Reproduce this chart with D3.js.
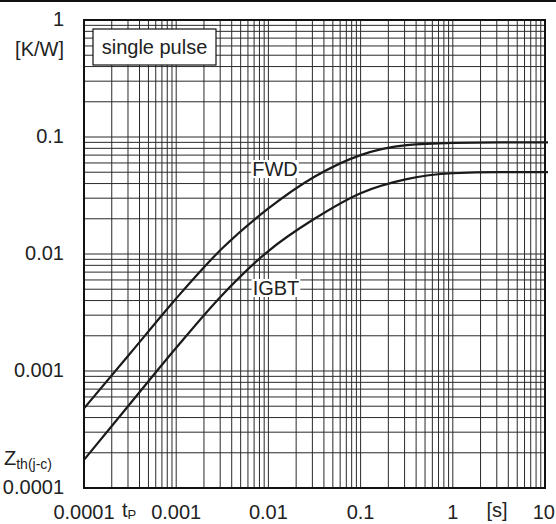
<!DOCTYPE html>
<html>
<head>
<meta charset="utf-8">
<script src="https://cdn.jsdelivr.net/npm/d3@7"></script>
<style>
  body { margin: 0; background: #fff; }
  text { font-family: "Liberation Sans", Arial, sans-serif; fill: #222; }
</style>
</head>
<body>
<div id="chart"></div>
<script>
// pulse duration [s] and thermal impedance [K/W]
var tp = [0.0001, 0.000316, 0.001, 0.00316, 0.01, 0.0316, 0.1, 0.316, 1, 3.16, 10];
var fwdZ = [0.000479, 0.00141, 0.00417, 0.0112, 0.0245, 0.0457, 0.070, 0.0851, 0.0891, 0.090, 0.090];
var igbtZ = [0.000174, 0.000525, 0.00158, 0.00447, 0.0106, 0.020, 0.0331, 0.0437, 0.049, 0.0501, 0.0501];

var xTicks = [0.0001, 0.001, 0.01, 0.1, 1, 10];
var xTickLabels = ["0.0001", "0.001", "0.01", "0.1", "1", "10"];
var yTicks = [0.0001, 0.001, 0.01, 0.1, 1];
var yTickLabels = ["0.0001", "0.001", "0.01", "0.1", "1"];

var width = 556, height = 524;
var margin = {left: 84, right: 11, top: 20, bottom: 36};
var fs = 20;

var svg = d3.select("#chart").append("svg")
    .attr("width", width)
    .attr("height", height);

svg.append("rect").attr("x", 0).attr("y", 0).attr("width", width).attr("height", 2).attr("fill", "#111");

var x = d3.scaleLog().domain([0.0001, 10]).range([margin.left, width - margin.right]);
var y = d3.scaleLog().domain([0.0001, 1]).range([height - margin.bottom, margin.top]);

// grid lines 1..9 per decade
function gridVals(lo, decades) {
    var out = [];
    for (var d = 0; d < decades; d++)
        for (var k = 1; k <= 9; k++) out.push(k * lo * Math.pow(10, d));
    out.push(lo * Math.pow(10, decades));
    return out;
}

var grid = svg.append("g").attr("stroke", "#2a2a2a").attr("stroke-width", 1);
grid.selectAll(".vx").data(gridVals(0.0001, 5)).enter().append("line")
    .attr("x1", d => x(d)).attr("x2", d => x(d))
    .attr("y1", y(1)).attr("y2", y(0.0001));
grid.selectAll(".hy").data(gridVals(0.0001, 4)).enter().append("line")
    .attr("y1", d => y(d)).attr("y2", d => y(d))
    .attr("x1", x(0.0001)).attr("x2", x(10));

svg.append("rect")
    .attr("x", x(0.0001)).attr("y", y(1))
    .attr("width", x(10) - x(0.0001)).attr("height", y(0.0001) - y(1))
    .attr("fill", "none").attr("stroke", "#111").attr("stroke-width", 2);

var line = d3.line().curve(d3.curveMonotoneX);

function drawCurve(ts, zs) {
    var pts = ts.map((t, i) => [x(t), y(zs[i])]);
    pts.push([x(10) + 3, y(zs[zs.length - 1])]);
    svg.append("path").attr("d", line(pts))
        .attr("fill", "none").attr("stroke", "#1a1a1a").attr("stroke-width", 2.2);
}
drawCurve(tp, fwdZ);
drawCurve(tp, igbtZ);

// curve labels with white backgrounds
function label(txt, cx, by) {
    var t = svg.append("text").attr("x", cx).attr("y", by)
        .attr("text-anchor", "middle").attr("font-size", fs).text(txt);
    var b = t.node().getBBox();
    svg.insert("rect", function () { return t.node(); })
        .attr("x", b.x - 1).attr("y", b.y + 2).attr("width", b.width + 2).attr("height", b.height - 4)
        .attr("fill", "#fff");
}
label("FWD", 275, 176);
label("IGBT", 276, 295);

// single pulse box
svg.append("rect").attr("x", 93).attr("y", 29).attr("width", 123).attr("height", 36)
    .attr("fill", "#fff").attr("stroke", "#111").attr("stroke-width", 1.2);
svg.append("text").attr("x", 154.5).attr("y", 54).attr("text-anchor", "middle")
    .attr("font-size", fs).text("single pulse");

// y axis labels
svg.selectAll(".ylab").data(yTicks).enter().append("text")
    .attr("x", 64).attr("y", d => y(d) + 6)
    .attr("text-anchor", "end").attr("font-size", fs)
    .text((d, i) => yTickLabels[i]);
svg.append("text").attr("x", 64).attr("y", 56).attr("text-anchor", "end")
    .attr("font-size", fs).text("[K/W]");
var zt = svg.append("text").attr("x", 4).attr("y", 465).attr("font-size", fs).text("Z");
zt.append("tspan").attr("font-size", 14).attr("dy", 4).text("th(j-c)");

// x axis labels
svg.selectAll(".xlab").data(xTicks).enter().append("text")
    .attr("x", (d, i) => i == xTicks.length - 1 ? 555 : x(d))
    .attr("y", 519)
    .attr("text-anchor", (d, i) => i == xTicks.length - 1 ? "end" : "middle")
    .attr("font-size", fs)
    .text((d, i) => xTickLabels[i]);
var tpl = svg.append("text").attr("x", 122).attr("y", 517).attr("font-size", fs).text("t");
tpl.append("tspan").attr("font-size", 13).attr("dy", 2).text("P");
svg.append("text").attr("x", 497).attr("y", 517).attr("text-anchor", "middle")
    .attr("font-size", fs).text("[s]");
</script>
</body>
</html>
